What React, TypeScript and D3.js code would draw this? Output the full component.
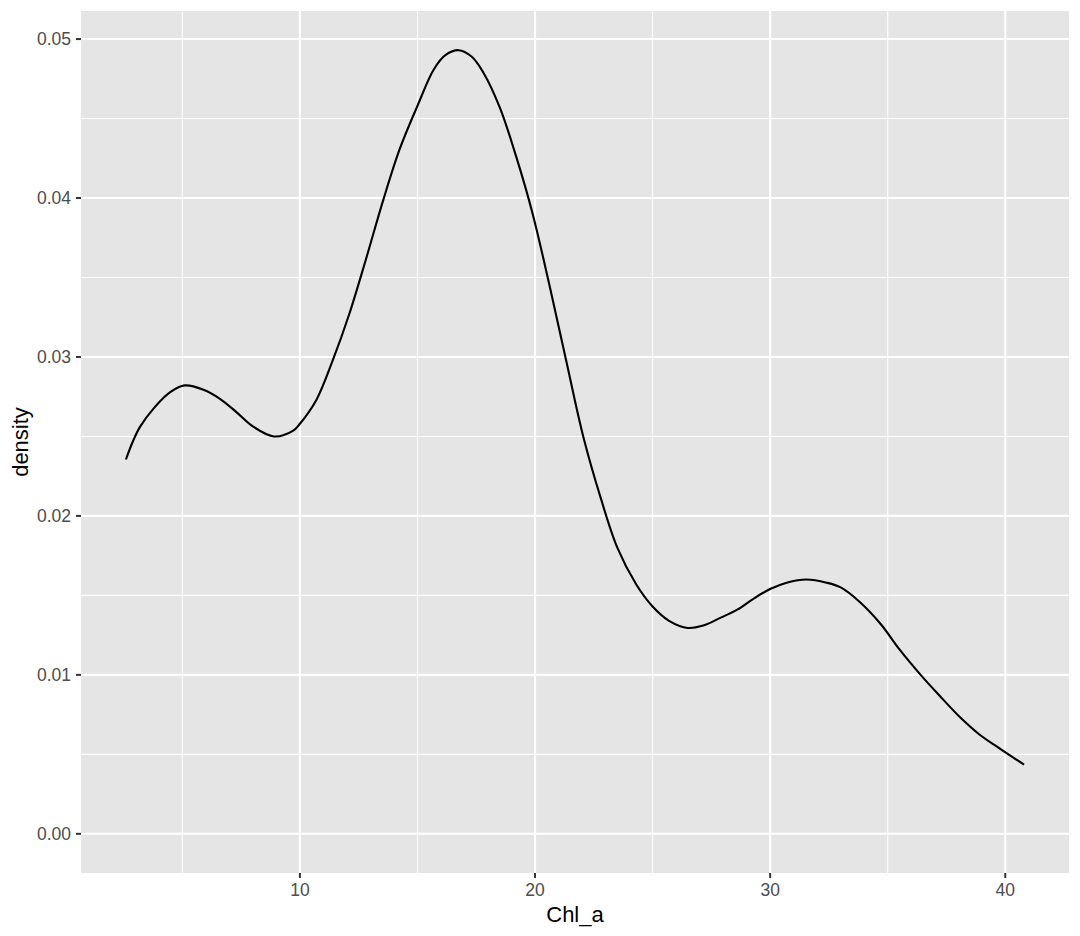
import React from "react";
import * as d3 from "d3";

const chlA: number[] = [
  2.6, 2.9, 3.2, 3.8, 4.5, 5.1, 5.9, 6.6, 7.3, 8.0, 8.9, 9.7, 10.0, 10.7, 11.4, 12.1, 12.8,
  13.55, 14.25, 15.0, 15.7, 16.2, 16.75, 17.3, 17.8, 18.5, 19.2, 19.9, 20.6, 21.35, 22.05,
  22.8, 23.5, 24.3, 25.0, 25.7, 26.5, 27.15, 27.9, 28.6, 29.3, 30.0, 30.7, 31.55,
  32.4, 33.0, 33.8, 34.7, 35.5, 36.4, 37.2, 38.1, 38.9, 39.8, 40.8,
];
const density: number[] = [
  0.02355, 0.0247, 0.0256, 0.0268, 0.0278, 0.02821, 0.02794, 0.02737, 0.02653, 0.02563,
  0.025, 0.02535, 0.0258, 0.0273, 0.0298, 0.0327, 0.0361, 0.0399, 0.0431, 0.0458, 0.0481,
  0.049, 0.0493, 0.0489, 0.0479, 0.0457, 0.0426, 0.039, 0.0346, 0.0296, 0.025, 0.0211,
  0.018, 0.0157, 0.0143, 0.0134, 0.01295, 0.0131, 0.0136, 0.0141, 0.0148, 0.0154, 0.0158,
  0.016, 0.0158, 0.0155, 0.0146, 0.0132, 0.0116, 0.01, 0.0087, 0.0073, 0.00625,
  0.00533, 0.00435,
];
const xMajor: number[] = [10, 20, 30, 40];
const xMinor: number[] = [5, 15, 25, 35];
const yMajor: number[] = [0, 0.01, 0.02, 0.03, 0.04, 0.05];
const yMinor: number[] = [0.005, 0.015, 0.025, 0.035, 0.045];
const xTitle = "Chl_a";
const yTitle = "density";

const W = 1080;
const H = 936;
const panel = { left: 81, right: 1069, top: 11, bottom: 873 };
const FONT = "'Liberation Sans', Arial, Helvetica, sans-serif";

export default function App() {
  const xExt = d3.extent(chlA) as [number, number];
  const xPad = (xExt[1] - xExt[0]) * 0.05;
  const yMax = d3.max(density) as number;
  const yPad = yMax * 0.05;
  const x = d3.scaleLinear().domain([xExt[0] - xPad, xExt[1] + xPad]).range([panel.left, panel.right]);
  const y = d3.scaleLinear().domain([-yPad, yMax + yPad]).range([panel.bottom, panel.top]);
  const pts = chlA.map((v, i) => [v, density[i]] as [number, number]);
  const line = d3
    .line<[number, number]>()
    .x((d) => x(d[0]))
    .y((d) => y(d[1]))
    .curve(d3.curveCatmullRom.alpha(0.5));

  return (
    <svg
      width={W}
      height={H}
      style={{ position: "absolute", left: 0, top: 0, display: "block", background: "#fff" }}
    >
      <rect
        x={panel.left}
        y={panel.top}
        width={panel.right - panel.left}
        height={panel.bottom - panel.top}
        fill="#E5E5E5"
      />
      {yMinor.map((v) => (
        <line key={"ym" + v} x1={panel.left} x2={panel.right} y1={y(v)} y2={y(v)} stroke="#fff" strokeWidth={1.1} />
      ))}
      {xMinor.map((v) => (
        <line key={"xm" + v} x1={x(v)} x2={x(v)} y1={panel.top} y2={panel.bottom} stroke="#fff" strokeWidth={1.1} />
      ))}
      {yMajor.map((v) => (
        <line key={"yM" + v} x1={panel.left} x2={panel.right} y1={y(v)} y2={y(v)} stroke="#fff" strokeWidth={2.1} />
      ))}
      {xMajor.map((v) => (
        <line key={"xM" + v} x1={x(v)} x2={x(v)} y1={panel.top} y2={panel.bottom} stroke="#fff" strokeWidth={2.1} />
      ))}
      <path d={line(pts) || ""} fill="none" stroke="#000" strokeWidth={2.1} />

      {yMajor.map((v) => (
        <g key={"yt" + v}>
          <line x1={panel.left - 5} x2={panel.left} y1={y(v)} y2={y(v)} stroke="#333" strokeWidth={2} />
          <text
            x={panel.left - 10}
            y={y(v)}
            dy="0.36em"
            textAnchor="end"
            fontFamily={FONT}
            fontSize={17.5}
            fill="#4D4D4D"
          >
            {d3.format(".2f")(v)}
          </text>
        </g>
      ))}
      {xMajor.map((v) => (
        <g key={"xt" + v}>
          <line x1={x(v)} x2={x(v)} y1={panel.bottom} y2={panel.bottom + 5} stroke="#333" strokeWidth={2} />
          <text x={x(v)} y={896} textAnchor="middle" fontFamily={FONT} fontSize={17.5} fill="#4D4D4D">
            {v}
          </text>
        </g>
      ))}
      <text
        x={(panel.left + panel.right) / 2}
        y={922}
        textAnchor="middle"
        fontFamily={FONT}
        fontSize={22}
        fill="#000"
      >
        {xTitle}
      </text>
      <text
        transform={`translate(28,${(panel.top + panel.bottom) / 2}) rotate(-90)`}
        textAnchor="middle"
        fontFamily={FONT}
        fontSize={22}
        fill="#000"
      >
        {yTitle}
      </text>
    </svg>
  );
}
